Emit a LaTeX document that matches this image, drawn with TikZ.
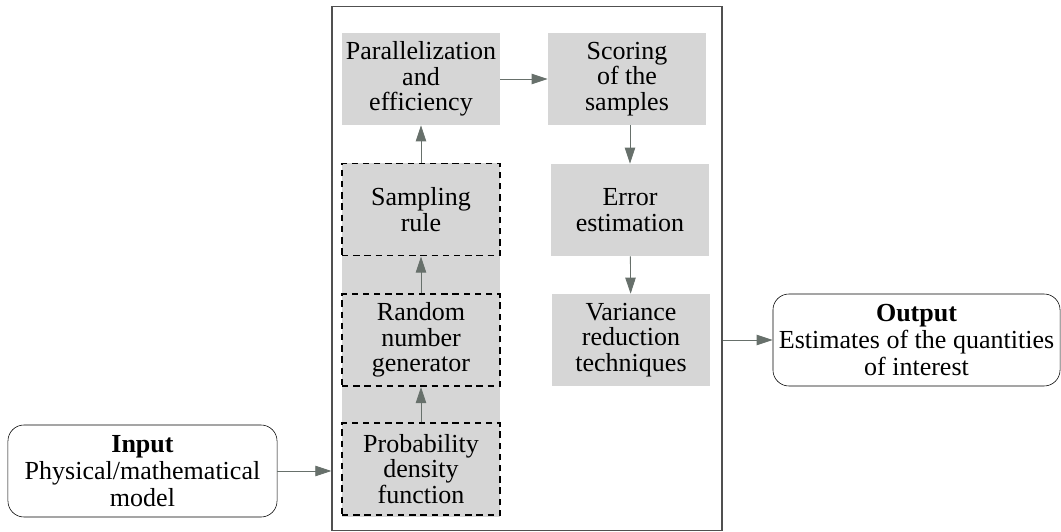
\documentclass[tikz,border=0pt]{standalone}
\usepackage{fontspec}
\setmainfont{Liberation Serif}
\usetikzlibrary{arrows.meta}
\definecolor{boxgray}{HTML}{D6D6D6}
\definecolor{arrowgray}{HTML}{67706B}
\definecolor{framegray}{HTML}{505050}
\begin{document}
\begin{tikzpicture}[x=0.025cm, y=-0.025cm,
    blk/.style={rectangle, fill=boxgray, inner sep=0pt, align=center,
      minimum width=3.95cm, minimum height=2.3cm,
      font=\fontsize{18.5}{18}\selectfont},
    dblk/.style={blk, draw, line width=1.4pt, dash pattern=on 0.16cm off 0.12cm},
    io/.style={rectangle, rounded corners=0.4cm, draw, thin, inner sep=0pt, align=center,
      minimum height=2.3cm, font=\fontsize{18.5}{19}\selectfont}]
    \useasboundingbox (0,0) rectangle (1061,532);

    % method box and the gray column behind the dashed steps
    \node [draw=framegray, line width=0.9pt, minimum width=9.75cm, minimum height=13.1cm, inner sep=0pt] (mc) at (527,268.5) {};
    \fill [boxgray] (342,163) rectangle (500,517);

    \begin{scope}
      \node [blk] (par) at (421,79) {Parallelization\\and\\efficiency};
      \node [blk] (score) at (627,79) {Scoring\\of the\\samples};
      \node [dblk] (samp) at (421,209.5) {Sampling\\rule};
      \node [dblk] (rng) at (421,340) {Random\\number\\generator};
      \node [dblk] (pdf) at (421,469) {Probability\\density\\function};
      \node [blk] (err) at (630,210) {Error\\estimation};
      \node [blk] (var) at (631,340) {Variance\\reduction\\techniques};
    \end{scope}

    \node [io, minimum width=6.725cm] (in) at (142.5,471) {\textbf{Input}\\Physical/mathematical\\model};
    \node [io, minimum width=7.175cm] (out) at (916.5,340) {\textbf{Output}\\Estimates of the quantities\\of interest};

    \begin{scope}[-{Triangle[length=0.4cm, width=0.26cm]}, draw=arrowgray, fill=arrowgray, line width=0.6pt]
      \draw (in.east) to (mc.west |- in.east);
      \draw (pdf) to (rng);
      \draw (rng) to (samp);
      \draw (samp) to (par);
      \draw (par) to (score);
      \draw (score.south -| err.north) to (err.north);
      \draw (err) to (var);
      \draw (mc.east |- out.west) to (out.west);
    \end{scope}

\end{tikzpicture}
\end{document}
